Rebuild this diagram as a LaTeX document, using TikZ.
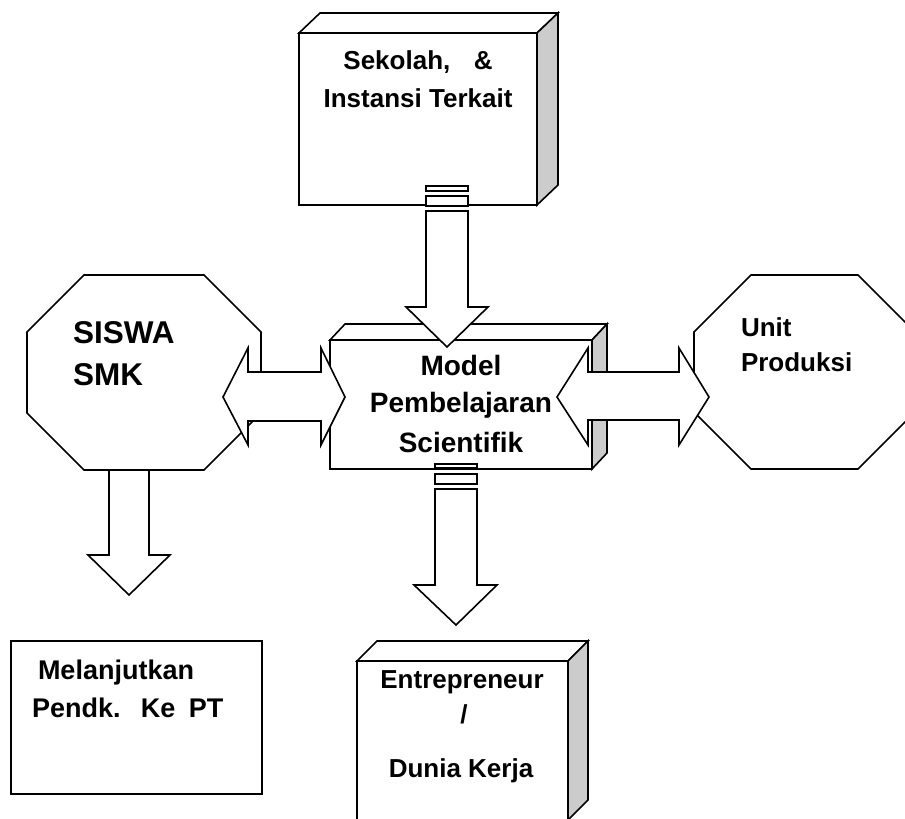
\documentclass[tikz,border=0pt]{standalone}
\usepackage{fontspec}
\setmainfont{Liberation Sans}
\usetikzlibrary{calc}
\definecolor{sidegrey}{HTML}{CCCCCC}

% front face of a box plus its top and shaded right side
\newcommand\extrude[3]{%
  \draw[outline, fill=white] (#1.north west) -- ++(#2,-#3)
    -- ($(#1.north east)+(#2,-#3)$) -- (#1.north east) -- cycle;
  \draw[side] (#1.north east) -- ++(#2,-#3)
    -- ($(#1.south east)+(#2,-#3)$) -- (#1.south east) -- cycle;
}
% octagon inscribed in a node, corners cut by #2
\newcommand\octo[2]{%
  \draw[outline, fill=white]
    ($(#1.north west)+(#2,0)$) -- ($(#1.north east)+(-#2,0)$)
    -- ($(#1.north east)+(0,#2)$) -- ($(#1.south east)+(0,-#2)$)
    -- ($(#1.south east)+(-#2,0)$) -- ($(#1.south west)+(#2,0)$)
    -- ($(#1.south west)+(0,-#2)$) -- ($(#1.north west)+(0,#2)$) -- cycle;
}

\tikzset{
  outline/.style={draw=black, line width=1.6pt, line join=miter},
  face/.style={outline, fill=white, inner sep=0pt, outer sep=0pt, anchor=north west},
  frame/.style={inner sep=0pt, outer sep=0pt, anchor=north west},
  side/.style={outline, fill=sidegrey},
  blockarrow/.style={outline, fill=white},
  txt/.style={inner sep=0pt, outer sep=0pt, font=\bfseries\fontsize{#1}{#1}\selectfont},
  txt/.default=26,
}

\begin{document}
\begin{tikzpicture}[x=1pt, y=-1pt]
\useasboundingbox (0,0) rectangle (905,819);
\clip (0,0) rectangle (905,819);

% boxes
\node[face, minimum width=238pt, minimum height=172pt] (sekolah) at (299,33) {};
\extrude{sekolah}{21}{20}
\node[face, minimum width=262pt, minimum height=129pt] (model) at (330,340) {};
\extrude{model}{15}{16}
\node[face, minimum width=211pt, minimum height=159pt] (kerja) at (357,661) {};
\extrude{kerja}{20}{20}
\node[face, minimum width=251pt, minimum height=153pt] (lanjut) at (11,641) {};

% octagons
\node[frame, minimum width=234pt, minimum height=195pt] (siswa) at (27,275) {};
\octo{siswa}{57}
\node[frame, minimum width=221pt, minimum height=194pt] (unit) at (694,275) {};
\octo{unit}{57}

% Sekolah -> Model
\draw[blockarrow] (426,186) rectangle (468,191);
\draw[blockarrow] (426,196) rectangle (468,206);
\draw[blockarrow] (426,211) -- (468,211) -- (468,307) -- (488,307) -- (447,347)
  -- (406,307) -- (426,307) -- cycle;

% SISWA <-> Model
\draw[blockarrow] (223,397) -- (248,348) -- (248,372) -- (321,372) -- (321,348)
  -- (345,397) -- (321,445) -- (321,421) -- (248,421) -- (248,445) -- cycle;

% Model <-> Unit Produksi
\draw[blockarrow] (557,397) -- (588,348) -- (588,372) -- (679,372) -- (679,348)
  -- (709,397) -- (679,445) -- (679,420) -- (588,420) -- (588,445) -- cycle;

% Model -> Entrepreneur
\draw[blockarrow] (435,464) rectangle (477,468);
\draw[blockarrow] (435,474) rectangle (477,484);
\draw[blockarrow] (435,489) -- (477,489) -- (477,585) -- (497,585) -- (456,625)
  -- (414,585) -- (435,585) -- cycle;

% SISWA -> Melanjutkan
\draw[blockarrow] (109,470) -- (149,470) -- (149,555) -- (170,555) -- (129,595)
  -- (88,555) -- (109,555) -- cycle;

% labels
\node[txt, anchor=base] (sek1) at (418,69) {Sekolah,\hspace{0.9em}\&};
\node[txt, anchor=base] (sek2) at (418,107) {Instansi Terkait};

\node[txt=28, anchor=base] (mod1) at (461,375) {Model};
\node[txt=28, anchor=base] (mod2) at (461,412) {Pembelajaran};
\node[txt=28, anchor=base] (mod3) at (461,452) {Scientifik};

\node[txt=31.5, anchor=base west] (sis1) at (73,343) {SISWA};
\node[txt=31.5, anchor=base west] (sis2) at (73,385) {SMK};

\node[txt, anchor=base west] (uni1) at (741,336) {Unit};
\node[txt, anchor=base west] (uni2) at (741,371) {Produksi};

\node[txt=27, anchor=base west] (lan1) at (38,679) {Melanjutkan};
\node[txt=27, anchor=base west] (lan2) at (32,717) {Pendk.\hspace{0.75em}Ke\hspace{0.5em}PT};

\node[txt, anchor=base] (ent1) at (462,688) {Entrepreneur};
\node[txt, anchor=base] (ent2) at (464,723) {/};
\node[txt, anchor=base] (ent3) at (461,777) {Dunia Kerja};
\end{tikzpicture}
\end{document}
